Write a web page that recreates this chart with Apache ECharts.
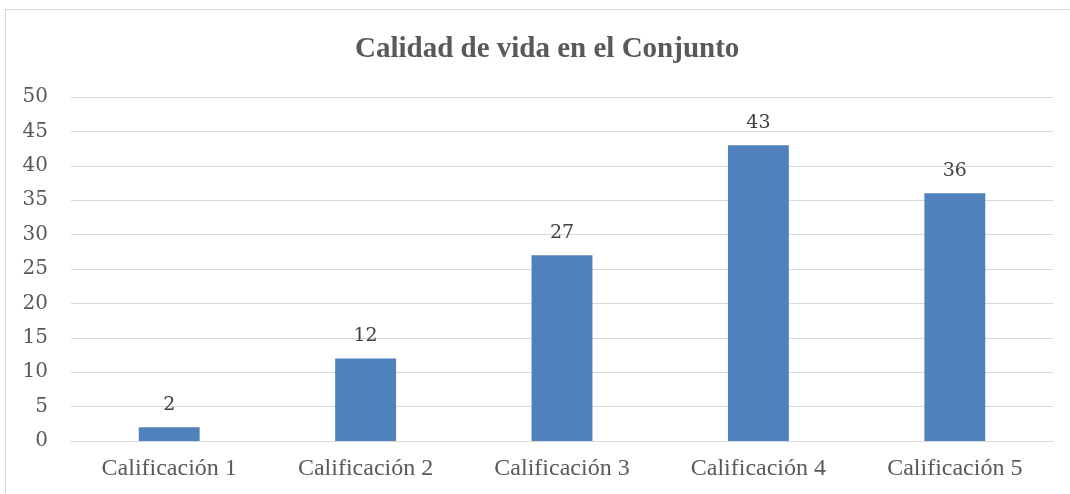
<!DOCTYPE html>
<html>
<head>
<meta charset="utf-8">
<script src="https://cdn.jsdelivr.net/npm/echarts@6/dist/echarts.min.js"></script>
<style>
  html, body { margin: 0; padding: 0; background: #fff; }
  #frame {
    position: absolute; left: 5px; top: 9px; width: 1080px; height: 500px;
    border: 1px solid #d9d9d9; box-sizing: border-box;
  }
  #chart { position: absolute; left: 0; top: 0; width: 1070px; height: 494px; }
</style>
</head>
<body>
<div id="frame"></div>
<div id="chart"></div>
<script>
// datos
const categorias = ['Calificación 1', 'Calificación 2', 'Calificación 3', 'Calificación 4', 'Calificación 5'];
const valores = [2, 12, 27, 43, 36];

const serifTimes = '"Liberation Serif", "Times New Roman", serif';

const chart = echarts.init(document.getElementById('chart'));

const option = {
  animation: false,
  title: {
    text: 'Calidad de vida en el Conjunto',
    left: 350,
    top: 30,
    textStyle: {
      fontFamily: serifTimes,
      fontSize: 29,
      fontWeight: 'bold',
      color: '#595959'
    }
  },
  grid: { left: 71, right: 17, top: 97, bottom: 53 },
  xAxis: {
    type: 'category',
    data: categorias,
    axisLine: { lineStyle: { color: '#d9d9d9' } },
    axisTick: { show: false },
    axisLabel: {
      fontFamily: serifTimes,
      fontSize: 24,
      color: '#595959',
      margin: 16
    }
  },
  yAxis: {
    type: 'value',
    min: 0,
    max: 50,
    interval: 5,
    axisLine: { show: false },
    axisTick: { show: false },
    splitLine: { lineStyle: { color: '#d9d9d9' } },
    axisLabel: {
      fontFamily: '"DejaVu Serif", serif',
      fontSize: 20,
      color: '#595959',
      margin: 23
    }
  },
  series: [{
    type: 'bar',
    data: valores,
    barWidth: '31%',
    itemStyle: { color: '#4f81bd' },
    label: {
      show: true,
      position: 'top',
      distance: 13,
      fontFamily: '"DejaVu Serif", serif',
      fontSize: 19,
      color: '#404040'
    }
  }]
};

chart.setOption(option);
</script>
</body>
</html>
